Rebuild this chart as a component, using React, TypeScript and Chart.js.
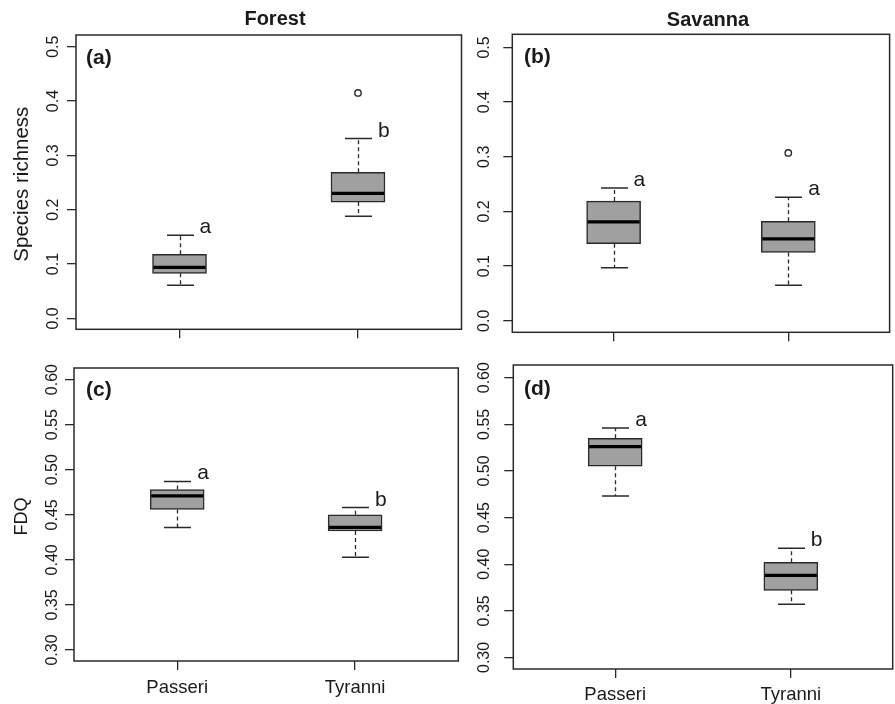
import React, { useEffect, useRef } from 'react';
import { Chart, registerables } from 'chart.js';

Chart.register(...registerables);

const W = 895;
const H = 704;

// ---------- data ----------
const groups = ['Passeri', 'Tyranni'];
const habitats = ['Forest', 'Savanna'];
const panelTags = ['(a)', '(b)', '(c)', '(d)'];
const richnessTitle = 'Species richness';
const fdqTitle = 'FDQ';

const richnessTickValues = [0, 0.1, 0.2, 0.3, 0.4, 0.5];
const richnessTickLabels = ['0.0', '0.1', '0.2', '0.3', '0.4', '0.5'];
const fdqTickValues = [0.3, 0.35, 0.4, 0.45, 0.5, 0.55, 0.6];
const fdqTickLabels = ['0.30', '0.35', '0.40', '0.45', '0.50', '0.55', '0.60'];

// (a) Forest - species richness
const forestRichnessMin = [0.061, 0.188];
const forestRichnessQ1 = [0.083, 0.214];
const forestRichnessMedian = [0.094, 0.23];
const forestRichnessQ3 = [0.118, 0.269];
const forestRichnessMax = [0.153, 0.331];
const forestRichnessOutliers = [[], [0.415]];
const forestRichnessLetters = ['a', 'b'];

// (b) Savanna - species richness
const savannaRichnessMin = [0.097, 0.065];
const savannaRichnessQ1 = [0.141, 0.125];
const savannaRichnessMedian = [0.181, 0.15];
const savannaRichnessQ3 = [0.219, 0.182];
const savannaRichnessMax = [0.243, 0.226];
const savannaRichnessOutliers = [[], [0.307]];
const savannaRichnessLetters = ['a', 'a'];

// (c) Forest - FDQ
const forestFdqMin = [0.436, 0.403];
const forestFdqQ1 = [0.456, 0.432];
const forestFdqMedian = [0.471, 0.436];
const forestFdqQ3 = [0.478, 0.45];
const forestFdqMax = [0.487, 0.458];
const forestFdqOutliers = [[], []];
const forestFdqLetters = ['a', 'b'];

// (d) Savanna - FDQ
const savannaFdqMin = [0.473, 0.357];
const savannaFdqQ1 = [0.505, 0.372];
const savannaFdqMedian = [0.526, 0.388];
const savannaFdqQ3 = [0.535, 0.402];
const savannaFdqMax = [0.546, 0.417];
const savannaFdqOutliers = [[], []];
const savannaFdqLetters = ['a', 'b'];

// ---------- layout / style ----------
const FONT = '"Liberation Sans", Arial, Helvetica, sans-serif';
const INK = '#1a1a1a';
const LINE = '#2a2a2a';
const BOX_FILL = '#a0a0a0';
const BOX_WIDTH = 54;
const CAP_HALF = 13.5;

type Panel = {
  min: number[]; q1: number[]; med: number[]; q3: number[]; max: number[];
  outliers: number[][]; letters: string[];
  tickValues: number[]; tickLabels: string[];
  frame: { l: number; t: number; r: number; b: number };
  yMin: number; yMax: number;
  tag: string; tagX: number; tagY: number;
  tickLabelOffset: number;
  title?: string; titleX?: number; titleY?: number;
  yTitle?: string; yTitleSize?: number;
  showXLabels: boolean; xLabelGap?: number;
};

const panels: Panel[] = [
  {
    min: forestRichnessMin, q1: forestRichnessQ1, med: forestRichnessMedian, q3: forestRichnessQ3, max: forestRichnessMax,
    outliers: forestRichnessOutliers, letters: forestRichnessLetters,
    tickValues: richnessTickValues, tickLabels: richnessTickLabels,
    frame: { l: 76, t: 35, r: 461.5, b: 329.3 }, yMin: -0.02, yMax: 0.5215,
    tag: panelTags[0], tagX: 86, tagY: 58, tickLabelOffset: 22,
    title: habitats[0], titleX: 275, titleY: 19,
    yTitle: richnessTitle, yTitleSize: 20.5,
    showXLabels: false,
  },
  {
    min: savannaRichnessMin, q1: savannaRichnessQ1, med: savannaRichnessMedian, q3: savannaRichnessQ3, max: savannaRichnessMax,
    outliers: savannaRichnessOutliers, letters: savannaRichnessLetters,
    tickValues: richnessTickValues, tickLabels: richnessTickLabels,
    frame: { l: 512.3, t: 34.3, r: 894, b: 332.3 }, yMin: -0.021, yMax: 0.524,
    tag: panelTags[1], tagX: 524, tagY: 57, tickLabelOffset: 28,
    title: habitats[1], titleX: 708, titleY: 20,
    showXLabels: false,
  },
  {
    min: forestFdqMin, q1: forestFdqQ1, med: forestFdqMedian, q3: forestFdqQ3, max: forestFdqMax,
    outliers: forestFdqOutliers, letters: forestFdqLetters,
    tickValues: fdqTickValues, tickLabels: fdqTickLabels,
    frame: { l: 74, t: 368, r: 458.3, b: 661 }, yMin: 0.2878, yMax: 0.6129,
    tag: panelTags[2], tagX: 86, tagY: 390, tickLabelOffset: 21,
    yTitle: fdqTitle, yTitleSize: 18,
    showXLabels: true, xLabelGap: 27,
  },
  {
    min: savannaFdqMin, q1: savannaFdqQ1, med: savannaFdqMedian, q3: savannaFdqQ3, max: savannaFdqMax,
    outliers: savannaFdqOutliers, letters: savannaFdqLetters,
    tickValues: fdqTickValues, tickLabels: fdqTickLabels,
    frame: { l: 513.3, t: 365, r: 892.7, b: 669 }, yMin: 0.2876, yMax: 0.6136,
    tag: panelTags[3], tagX: 524, tagY: 389, tickLabelOffset: 28.5,
    showXLabels: true, xLabelGap: 26,
  },
];

function makePlugin(p: Panel) {
  return {
    id: 'boxDecor',
    beforeDatasetsDraw(chart: any) {
      const ctx = chart.ctx;
      const xs = chart.scales.x;
      const ys = chart.scales.y;
      ctx.save();
      ctx.strokeStyle = LINE;
      p.min.forEach((_, i) => {
        const x = Math.round(xs.getPixelForValue(i + 1)) + 0.5;
        const yMin = ys.getPixelForValue(p.min[i]);
        const yQ1 = ys.getPixelForValue(p.q1[i]);
        const yQ3 = ys.getPixelForValue(p.q3[i]);
        const yMax = ys.getPixelForValue(p.max[i]);
        ctx.setLineDash([4, 3]);
        ctx.lineWidth = 1.3;
        ctx.beginPath();
        ctx.moveTo(x, yQ3);
        ctx.lineTo(x, yMax);
        ctx.moveTo(x, yQ1);
        ctx.lineTo(x, yMin);
        ctx.stroke();
        ctx.setLineDash([]);
        ctx.lineWidth = 1.5;
        ctx.beginPath();
        ctx.moveTo(x - CAP_HALF, yMax);
        ctx.lineTo(x + CAP_HALF, yMax);
        ctx.moveTo(x - CAP_HALF, yMin);
        ctx.lineTo(x + CAP_HALF, yMin);
        ctx.stroke();
      });
      ctx.restore();
    },
    afterDatasetsDraw(chart: any) {
      const ctx = chart.ctx;
      const xs = chart.scales.x;
      const ys = chart.scales.y;
      ctx.save();
      p.med.forEach((m, i) => {
        const x = xs.getPixelForValue(i + 1);
        const y = ys.getPixelForValue(m);
        ctx.strokeStyle = '#000';
        ctx.lineWidth = 3.2;
        ctx.beginPath();
        ctx.moveTo(x - BOX_WIDTH / 2 + 1, y);
        ctx.lineTo(x + BOX_WIDTH / 2 - 1, y);
        ctx.stroke();
        // significance letters
        ctx.fillStyle = INK;
        ctx.font = `21px ${FONT}`;
        ctx.textAlign = 'left';
        ctx.textBaseline = 'alphabetic';
        ctx.fillText(p.letters[i], x + 20, ys.getPixelForValue(p.max[i]) - 2);
      });
      ctx.restore();
    },
    afterDraw(chart: any) {
      const ctx = chart.ctx;
      const ca = chart.chartArea;
      const xs = chart.scales.x;
      const ys = chart.scales.y;
      ctx.save();
      // frame
      ctx.strokeStyle = LINE;
      ctx.lineWidth = 1.5;
      ctx.strokeRect(ca.left, ca.top, ca.right - ca.left, ca.bottom - ca.top);
      // y tick labels
      ctx.fillStyle = INK;
      ctx.font = `16px ${FONT}`;
      ctx.textAlign = 'center';
      ctx.textBaseline = 'middle';
      p.tickValues.forEach((v, i) => {
        const y = ys.getPixelForValue(v);
        ctx.save();
        ctx.translate(ca.left - p.tickLabelOffset, y);
        ctx.rotate(-Math.PI / 2);
        ctx.fillText(p.tickLabels[i], 0, 0);
        ctx.restore();
      });
      // x labels
      if (p.showXLabels) {
        ctx.font = `18.5px ${FONT}`;
        groups.forEach((g, i) => {
          ctx.fillText(g, xs.getPixelForValue(i + 1), ca.bottom + (p.xLabelGap || 27));
        });
      }
      // habitat title
      if (p.title) {
        ctx.font = `bold 20px ${FONT}`;
        ctx.fillText(p.title, p.titleX!, p.titleY!);
      }
      // y-axis title
      if (p.yTitle) {
        ctx.font = `${p.yTitleSize}px ${FONT}`;
        ctx.save();
        ctx.translate(22, (ca.top + ca.bottom) / 2 + 2);
        ctx.rotate(-Math.PI / 2);
        ctx.fillText(p.yTitle, 0, 0);
        ctx.restore();
      }
      // panel tag
      ctx.font = `bold 21px ${FONT}`;
      ctx.textAlign = 'left';
      ctx.fillText(p.tag, p.tagX, p.tagY);
      ctx.restore();
    },
  };
}

function PanelChart({ p }: { p: Panel }) {
  const ref = useRef<HTMLCanvasElement | null>(null);
  useEffect(() => {
    if (!ref.current) return;
    const chart = new Chart(ref.current, {
      type: 'bar',
      data: {
        datasets: [
          {
            type: 'bar',
            data: groups.map((_, i) => ({ x: i + 1, y: [p.q1[i], p.q3[i]] })) as any,
            backgroundColor: BOX_FILL,
            borderColor: LINE,
            borderWidth: 1.5,
            borderSkipped: false,
            barThickness: BOX_WIDTH,
          } as any,
          {
            type: 'scatter',
            data: p.outliers.flatMap((arr, i) => arr.map((v) => ({ x: i + 1, y: v }))),
            pointStyle: 'circle',
            radius: 3.2,
            borderWidth: 1.4,
            borderColor: LINE,
            backgroundColor: 'rgba(0,0,0,0)',
          } as any,
        ],
      },
      options: {
        responsive: false,
        animation: false,
        devicePixelRatio: 1,
        events: [],
        layout: {
          padding: { left: p.frame.l, top: p.frame.t, right: W - p.frame.r, bottom: H - p.frame.b },
        },
        plugins: { legend: { display: false }, tooltip: { enabled: false }, title: { display: false } },
        scales: {
          x: {
            type: 'linear',
            min: 0.42,
            max: 2.58,
            offset: false,
            border: { display: false },
            grid: { display: true, offset: false, drawOnChartArea: false, drawTicks: true, tickLength: 9, color: LINE, lineWidth: 1.3 },
            ticks: { display: false },
            afterBuildTicks: (s: any) => { s.ticks = groups.map((_, i) => ({ value: i + 1 })); },
            afterFit: (s: any) => { s.height = 0; },
          },
          y: {
            type: 'linear',
            min: p.yMin,
            max: p.yMax,
            border: { display: false },
            grid: { display: true, offset: false, drawOnChartArea: false, drawTicks: true, tickLength: 9, color: LINE, lineWidth: 1.3 },
            ticks: { display: false },
            afterBuildTicks: (s: any) => { s.ticks = p.tickValues.map((v) => ({ value: v })); },
            afterFit: (s: any) => { s.width = 0; },
          },
        },
      } as any,
      plugins: [makePlugin(p)],
    });
    return () => chart.destroy();
  }, [p]);
  return (
    <canvas
      ref={ref}
      width={W}
      height={H}
      style={{ position: 'absolute', left: 0, top: 0, width: W, height: H }}
    />
  );
}

export default function App() {
  return (
    <div style={{ position: 'fixed', left: 0, top: 0, width: W, height: H, background: '#fff', overflow: 'hidden' }}>
      {panels.map((p, i) => (
        <PanelChart key={i} p={p} />
      ))}
    </div>
  );
}
